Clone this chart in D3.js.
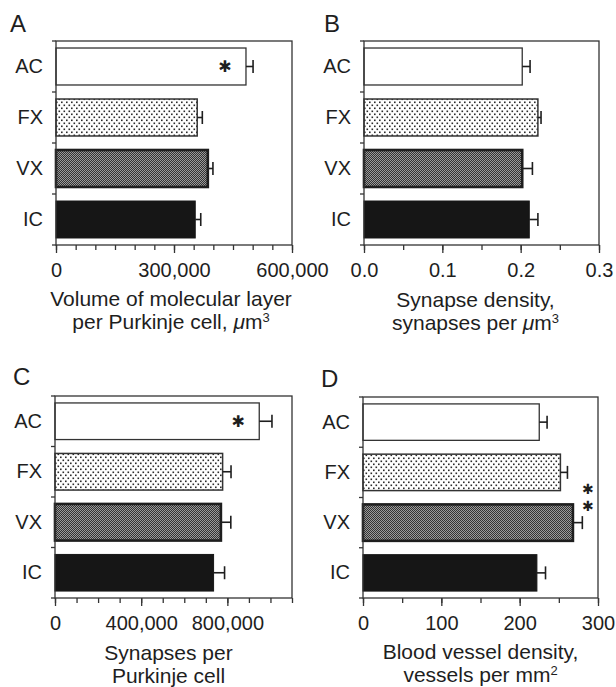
<!DOCTYPE html>
<html>
<head>
<meta charset="utf-8">
<script src="https://cdn.jsdelivr.net/npm/d3@7"></script>
<style>
    body { margin: 0; background: #fff; }
    svg { display: block; }
    text { font-family: "Liberation Sans", Arial, sans-serif; fill: #1e1e1e; }
</style>
</head>
<body>
<div id="chart"></div>
<script>
// Groups, top to bottom
const groups = ['AC', 'FX', 'VX', 'IC'];

// A: volume of molecular layer per Purkinje cell (um3)
const volumeMean = [483000, 359000, 386000, 354000];
const volumeErr = [18000, 13000, 13000, 14000];
const volumeTicks = [0, 300000, 600000];

// B: synapse density (synapses per um3)
const densityMean = [0.202, 0.222, 0.202, 0.211];
const densityErr = [0.010, 0.004, 0.013, 0.011];
const densityTicks = [0, 0.1, 0.2, 0.3];

// C: synapses per Purkinje cell
const synapsesMean = [948000, 778000, 770000, 736000];
const synapsesErr = [59000, 39000, 46000, 51000];
const synapsesTicks = [0, 400000, 800000];

// D: blood vessel density (vessels per mm2)
const vesselMean = [225, 252, 268, 222];
const vesselErr = [10, 9, 12, 11];
const vesselTicks = [0, 100, 200, 300];

// Significance marks
const volumeStars = ['*', '', '', ''];
const synapsesStars = ['*', '', '', ''];

// Add svg to page
const svg = d3.select('#chart')
    .append('svg')
    .attr('width', 616)
    .attr('height', 687);

// Fill patterns
const defs = svg.append('defs');
const dots = defs.append('pattern')
    .attr('id', 'dots')
    .attr('patternUnits', 'userSpaceOnUse')
    .attr('width', 5)
    .attr('height', 6);
dots.append('rect').attr('width', 5).attr('height', 6).attr('fill', '#fff');
dots.append('rect').attr('x', 0).attr('y', 0.5).attr('width', 1.6).attr('height', 1.6).attr('fill', '#2a2a2a');
dots.append('rect').attr('x', 2.5).attr('y', 3.5).attr('width', 1.6).attr('height', 1.6).attr('fill', '#2a2a2a');

const check = defs.append('pattern')
    .attr('id', 'check')
    .attr('patternUnits', 'userSpaceOnUse')
    .attr('width', 2)
    .attr('height', 2);
check.append('rect').attr('width', 2).attr('height', 2).attr('fill', '#9a9a9a');
check.append('rect').attr('x', 0).attr('y', 0).attr('width', 1).attr('height', 1).attr('fill', '#333');
check.append('rect').attr('x', 1).attr('y', 1).attr('width', 1).attr('height', 1).attr('fill', '#333');

const barFill = ['#fff', 'url(#dots)', 'url(#check)', '#161616'];
const barStroke = ['#333', '#333', '#1e1e1e', '#161616'];
const barStrokeWidth = [1.3, 1.5, 2.6, 1];

function drawPanel(p) {
    const g = svg.append('g')
        .attr('transform', 'translate(' + p.left + ',' + p.top + ')');

    // Scales
    const x = d3.scaleLinear().domain(p.domain).range([0, p.width]);
    const y = d3.scaleBand().domain(groups).range([0, p.height])
        .paddingInner(0.275).paddingOuter(0.1375);

    const rows = groups.map((name, i) => ({name: name, mean: p.mean[i], err: p.err[i], i: i}));

    // Bars
    g.selectAll('.bar')
        .data(rows)
        .enter()
        .append('rect')
        .attr('class', 'bar')
        .attr('x', 0)
        .attr('y', d => y(d.name))
        .attr('width', d => x(d.mean))
        .attr('height', y.bandwidth())
        .attr('fill', d => barFill[d.i])
        .attr('stroke', d => barStroke[d.i])
        .attr('stroke-width', d => barStrokeWidth[d.i]);

    // Error bars (one sided)
    const err = g.selectAll('.err')
        .data(rows)
        .enter()
        .append('g')
        .attr('class', 'err')
        .attr('stroke', '#1e1e1e')
        .attr('stroke-width', 1.6);
    err.append('line')
        .attr('x1', d => x(d.mean))
        .attr('x2', d => x(d.mean + d.err))
        .attr('y1', d => y(d.name) + y.bandwidth() / 2)
        .attr('y2', d => y(d.name) + y.bandwidth() / 2);
    err.append('line')
        .attr('x1', d => x(d.mean + d.err))
        .attr('x2', d => x(d.mean + d.err))
        .attr('y1', d => y(d.name) + y.bandwidth() / 2 - 6.5)
        .attr('y2', d => y(d.name) + y.bandwidth() / 2 + 6.5);

    // Frame
    g.append('rect')
        .attr('width', p.width)
        .attr('height', p.height)
        .attr('fill', 'none')
        .attr('stroke', '#333')
        .attr('stroke-width', 1.3);

    // Minor ticks on the x axis
    const minor = d3.range(0, p.domain[1] + p.minorStep / 2, p.minorStep);
    g.append('g')
        .attr('transform', 'translate(0,' + p.height + ')')
        .call(d3.axisBottom(x).tickValues(minor).tickSize(5).tickFormat(''))
        .call(a => a.select('.domain').remove())
        .call(a => a.selectAll('line').attr('stroke', '#333').attr('stroke-width', 1.3));

    // Major ticks with labels
    g.append('g')
        .attr('transform', 'translate(0,' + p.height + ')')
        .call(d3.axisBottom(x).tickValues(p.ticks).tickSize(8).tickFormat(p.format))
        .call(a => a.select('.domain').remove())
        .call(a => a.selectAll('line').attr('stroke', '#333').attr('stroke-width', 1.3))
        .call(a => a.selectAll('text')
            .attr('y', 32)
            .attr('dy', null)
            .style('font-size', '20px')
            .attr('fill', '#1e1e1e'));

    // Category labels
    g.append('g')
        .call(d3.axisLeft(y).tickSize(0).tickPadding(13))
        .call(a => a.select('.domain').remove())
        .call(a => a.selectAll('text')
            .style('font-size', '20px')
            .attr('fill', '#1e1e1e'));

    // Category boundary ticks
    g.selectAll('.btick')
        .data(d3.range(groups.length + 1))
        .enter()
        .append('line')
        .attr('class', 'btick')
        .attr('x1', -4)
        .attr('x2', 0)
        .attr('y1', d => d * y.step())
        .attr('y2', d => d * y.step())
        .attr('stroke', '#333')
        .attr('stroke-width', 1.3);

    // Stars inside bars
    if(p.stars) {
        g.selectAll('.star')
            .data(rows.filter(d => p.stars[d.i]))
            .enter()
            .append('text')
            .attr('class', 'star')
            .attr('x', d => x(d.mean) - 21)
            .attr('y', d => y(d.name) + y.bandwidth() / 2)
            .attr('dy', '0.36em')
            .attr('text-anchor', 'middle')
            .style('font-family', '"DejaVu Sans", sans-serif')
            .style('font-size', '16px')
            .text('✱');
    }

    // Stacked stars between two groups
    if(p.pairStars) {
        const yMid = y.step() * p.pairStars.boundary;
        g.selectAll('.pstar')
            .data([-8.5, 8.5])
            .enter()
            .append('text')
            .attr('class', 'pstar')
            .attr('x', x(p.pairStars.at))
            .attr('y', d => yMid + d)
            .attr('dy', '0.36em')
            .attr('text-anchor', 'middle')
            .style('font-family', '"DejaVu Sans", sans-serif')
            .style('font-size', '14px')
            .text('✱');
    }

    // Panel letter
    svg.append('text')
        .attr('x', p.letterX)
        .attr('y', p.letterY)
        .style('font-size', '24px')
        .text(p.letter);

    // Axis title
    const title = g.append('text')
        .attr('text-anchor', 'middle')
        .attr('transform', 'translate(' + (p.width / 2 + p.titleShift) + ',' + (p.height + p.titleY) + ')')
        .style('font-size', '21px');
    title.append('tspan').attr('x', 0).attr('y', 0).text(p.title[0]);
    const l2 = title.append('tspan').attr('x', 0).attr('y', 23);
    p.title[1](l2);
}

function unitLine(prefix, italicUnit, unit, sup) {
    return function(t) {
        t.append('tspan').text(prefix);
        if(italicUnit) t.append('tspan').style('font-style', 'italic').text(italicUnit);
        t.append('tspan').text(unit);
        if(sup) t.append('tspan').attr('dy', -7).style('font-size', '13px').text(sup);
    };
}

drawPanel({
    letter: 'A', letterX: 10, letterY: 32,
    left: 56, top: 41, width: 236, height: 204,
    domain: [0, 600000], ticks: volumeTicks, minorStep: 50000, format: d3.format(','),
    mean: volumeMean, err: volumeErr, stars: volumeStars,
    title: ['Volume of molecular layer', unitLine('per Purkinje cell, ', 'μ', 'm', '3')],
    titleY: 61, titleShift: -3
});

drawPanel({
    letter: 'B', letterX: 324, letterY: 32,
    left: 364, top: 41, width: 235, height: 204,
    domain: [0, 0.3], ticks: densityTicks, minorStep: 0.05, format: d3.format('.1f'),
    mean: densityMean, err: densityErr,
    title: ['Synapse density,', unitLine('synapses per ', 'μ', 'm', '3')],
    titleY: 62, titleShift: -6
});

drawPanel({
    letter: 'C', letterX: 13, letterY: 385,
    left: 55, top: 396, width: 237, height: 202,
    domain: [0, 1100000], ticks: synapsesTicks, minorStep: 100000, format: d3.format(','),
    mean: synapsesMean, err: synapsesErr, stars: synapsesStars,
    title: ['Synapses per', unitLine('Purkinje cell', '', '', '')],
    titleY: 62, titleShift: -5
});

drawPanel({
    letter: 'D', letterX: 321, letterY: 387,
    left: 363, top: 397, width: 235, height: 201,
    domain: [0, 300], ticks: vesselTicks, minorStep: 50, format: d3.format('d'),
    mean: vesselMean, err: vesselErr,
    pairStars: {boundary: 2, at: 287},
    title: ['Blood vessel density,', unitLine('vessels per mm', '', '', '2')],
    titleY: 61, titleShift: 0
});
</script>
</body>
</html>
